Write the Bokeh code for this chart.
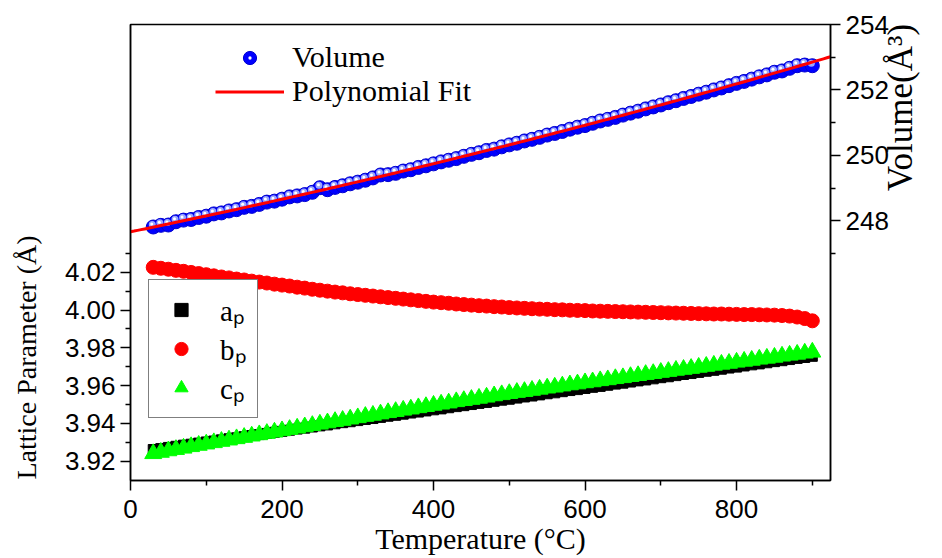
import math
import numpy as np
from bokeh.plotting import figure
from bokeh.models import (Range1d, LinearAxis, FixedTicker, PrintfTickFormatter,
                          Legend, LegendItem, ColumnDataSource)
from bokeh.embed import file_html
from bokeh.resources import INLINE

# Measurement temperatures (deg C)
temperature = list(range(30, 901, 10))

# Unit-cell volume (A^3)
volume = [
    247.81, 247.86, 247.87, 247.97, 248.02, 248.04, 248.10, 248.14, 248.21, 248.24,
    248.30, 248.34, 248.41, 248.44, 248.50, 248.57, 248.60, 248.66, 248.73, 248.76,
    248.80, 248.87, 249.01, 248.95, 249.02, 249.07, 249.13, 249.18, 249.24, 249.31,
    249.40, 249.41, 249.45, 249.52, 249.56, 249.63, 249.68, 249.74, 249.80, 249.85,
    249.90, 249.97, 250.03, 250.08, 250.15, 250.19, 250.26, 250.32, 250.37, 250.44,
    250.49, 250.55, 250.62, 250.67, 250.73, 250.80, 250.86, 250.91, 250.98, 251.05,
    251.10, 251.16, 251.23, 251.29, 251.35, 251.42, 251.48, 251.54, 251.61, 251.67,
    251.74, 251.80, 251.87, 251.93, 252.00, 252.06, 252.13, 252.20, 252.26, 252.33,
    252.40, 252.46, 252.54, 252.58, 252.66, 252.74, 252.76, 252.74,
]

# Pseudo-cubic lattice parameters (A)
a_p = [
    3.9262, 3.9267, 3.9273, 3.9279, 3.9285, 3.9290, 3.9296, 3.9302, 3.9307, 3.9313,
    3.9319, 3.9324, 3.9330, 3.9336, 3.9341, 3.9347, 3.9353, 3.9358, 3.9364, 3.9370,
    3.9375, 3.9381, 3.9387, 3.9392, 3.9398, 3.9404, 3.9409, 3.9415, 3.9421, 3.9426,
    3.9432, 3.9438, 3.9443, 3.9449, 3.9455, 3.9460, 3.9466, 3.9472, 3.9477, 3.9483,
    3.9489, 3.9494, 3.9500, 3.9506, 3.9511, 3.9517, 3.9523, 3.9528, 3.9534, 3.9540,
    3.9545, 3.9551, 3.9557, 3.9562, 3.9568, 3.9574, 3.9579, 3.9585, 3.9591, 3.9596,
    3.9602, 3.9608, 3.9613, 3.9619, 3.9625, 3.9630, 3.9636, 3.9642, 3.9647, 3.9653,
    3.9659, 3.9664, 3.9670, 3.9676, 3.9681, 3.9687, 3.9693, 3.9698, 3.9704, 3.9710,
    3.9715, 3.9721, 3.9727, 3.9732, 3.9738, 3.9744, 3.9749, 3.9755,
]
b_p = [
    4.0226, 4.0221, 4.0216, 4.0210, 4.0205, 4.0199, 4.0193, 4.0187, 4.0181, 4.0175,
    4.0170, 4.0164, 4.0159, 4.0153, 4.0148, 4.0143, 4.0137, 4.0132, 4.0127, 4.0121,
    4.0116, 4.0110, 4.0105, 4.0100, 4.0095, 4.0091, 4.0086, 4.0082, 4.0078, 4.0074,
    4.0070, 4.0066, 4.0062, 4.0058, 4.0054, 4.0050, 4.0046, 4.0042, 4.0039, 4.0036,
    4.0032, 4.0029, 4.0026, 4.0023, 4.0021, 4.0018, 4.0016, 4.0013, 4.0011, 4.0009,
    4.0007, 4.0005, 4.0004, 4.0002, 4.0001, 3.9999, 3.9998, 3.9997, 3.9995, 3.9994,
    3.9993, 3.9992, 3.9991, 3.9990, 3.9989, 3.9988, 3.9987, 3.9986, 3.9985, 3.9984,
    3.9983, 3.9982, 3.9981, 3.9980, 3.9979, 3.9979, 3.9978, 3.9977, 3.9976, 3.9976,
    3.9975, 3.9974, 3.9973, 3.9971, 3.9968, 3.9963, 3.9955, 3.9943,
]
c_p = [
    3.9240, 3.9247, 3.9255, 3.9262, 3.9269, 3.9277, 3.9284, 3.9291, 3.9298, 3.9305,
    3.9312, 3.9319, 3.9326, 3.9333, 3.9340, 3.9347, 3.9354, 3.9361, 3.9368, 3.9375,
    3.9382, 3.9389, 3.9396, 3.9403, 3.9410, 3.9416, 3.9423, 3.9430, 3.9437, 3.9443,
    3.9450, 3.9457, 3.9463, 3.9470, 3.9476, 3.9483, 3.9489, 3.9496, 3.9502, 3.9508,
    3.9515, 3.9521, 3.9527, 3.9533, 3.9539, 3.9546, 3.9552, 3.9558, 3.9564, 3.9569,
    3.9575, 3.9581, 3.9587, 3.9592, 3.9598, 3.9604, 3.9609, 3.9615, 3.9620, 3.9626,
    3.9631, 3.9637, 3.9642, 3.9648, 3.9653, 3.9659, 3.9664, 3.9670, 3.9675, 3.9681,
    3.9686, 3.9691, 3.9697, 3.9702, 3.9708, 3.9713, 3.9718, 3.9724, 3.9729, 3.9734,
    3.9740, 3.9745, 3.9750, 3.9756, 3.9761, 3.9766, 3.9772, 3.9777,
]

# Axis ticks
x_ticks = [0, 200, 400, 600, 800]
x_minor = [100, 300, 500, 700, 900]
lat_ticks = [3.92, 3.94, 3.96, 3.98, 4.00, 4.02]
lat_minor = [3.93, 3.95, 3.97, 3.99, 4.01, 4.03]
vol_ticks = [248, 250, 252, 254]
vol_minor = [247, 249, 251, 253]

# Canvas / frame geometry
W, H = 942, 558
B_LEFT, B_RIGHT, B_TOP, B_BOTTOM = 130, 95, 24, 78
FRAME_W = W - B_LEFT - B_RIGHT
FRAME_H = H - B_TOP - B_BOTTOM

X0, X1 = 0, 924
LAT0, LAT1 = 3.9098, 4.1511
VOL0, VOL1 = 240.06, 254.0

SERIF = "Liberation Serif"
SANS = "Liberation Sans"
NBSP = "\u00a0"

p = figure(width=W, height=H, x_range=Range1d(X0, X1), y_range=Range1d(LAT0, LAT1),
           output_backend="svg", toolbar_location=None,
           min_border_left=B_LEFT, min_border_right=B_RIGHT,
           min_border_top=B_TOP, min_border_bottom=B_BOTTOM)
p.extra_y_ranges = {"vol": Range1d(VOL0, VOL1)}
p.xgrid.visible = False
p.ygrid.visible = False
p.outline_line_color = "black"
p.outline_line_width = 1.5
p.background_fill_color = "white"
p.border_fill_color = "white"

vol_axis = LinearAxis(y_range_name="vol")
p.add_layout(vol_axis, "right")

xax = p.xaxis[0]
yax = p.yaxis[0]
xax.ticker = FixedTicker(ticks=x_ticks, minor_ticks=x_minor)
yax.ticker = FixedTicker(ticks=lat_ticks, minor_ticks=lat_minor)
vol_axis.ticker = FixedTicker(ticks=vol_ticks, minor_ticks=vol_minor)
yax.formatter = PrintfTickFormatter(format="%.2f")
vol_axis.formatter = PrintfTickFormatter(format="%d")

for ax in (xax, yax, vol_axis):
    ax.axis_line_width = 1.5
    ax.axis_line_color = "black"
    ax.major_tick_line_width = 1.5
    ax.minor_tick_line_width = 1.5
    ax.major_tick_line_color = "black"
    ax.minor_tick_line_color = "black"
    ax.major_tick_out = 10
    ax.major_tick_in = 0
    ax.minor_tick_out = 5
    ax.minor_tick_in = 0
    ax.major_label_text_font = SANS
    ax.major_label_text_font_size = "26px"
    ax.major_label_text_color = "black"
    ax.major_label_standoff = 5
    ax.axis_label_text_font = SERIF
    ax.axis_label_text_font_style = "normal"
    ax.axis_label_text_color = "black"
    ax.axis_label_text_font_size = "30px"

xax.major_label_standoff = 9
xax.axis_label = "Temperature (°C)"
xax.axis_label_standoff = 1

# titles sit off-centre along their axes; non-breaking padding moves them
yax.axis_label = "Lattice Parameter (Å)" + NBSP * 30
yax.axis_label_text_font_size = "28px"
yax.axis_label_standoff = 20
vol_axis.axis_label_text_font_size = "35px"
vol_axis.axis_label_text_line_height = 0.8
vol_axis.axis_label_standoff = 9
if "axis_label_orientation" in LinearAxis.properties():
    # rotated to read upwards, starting from the middle of the axis
    vol_axis.axis_label_orientation = math.pi / 2
    vol_axis.axis_label = NBSP * 7 + "Volume(Å³)"
else:
    vol_axis.axis_label = "Volume(Å³)"

# Lattice parameters
r_a = p.scatter(temperature, a_p, marker="square", size=10, fill_color="black", line_color="black")
r_b = p.scatter(temperature, b_p, marker="circle", size=14, fill_color="#ff0000", line_color="#ff0000")
r_c = p.scatter(temperature, c_p, marker="triangle", size=17, fill_color="#00ff00", line_color="#00ff00")

# Volume drawn as shaded spheres: dark body, lighter core, white glint
px_x = (X1 - X0) / FRAME_W
px_v = (VOL1 - VOL0) / FRAME_H
core_src = ColumnDataSource(dict(x=[t - 1.0 * px_x for t in temperature],
                                 y=[v + 2.5 * px_v for v in volume]))
glint_src = ColumnDataSource(dict(x=[t - 1.5 * px_x for t in temperature],
                                  y=[v + 3.0 * px_v for v in volume]))
r_vol = p.scatter(temperature, volume, marker="circle", size=14, fill_color="#0000ff",
                  line_color="#0000d0", line_width=1, y_range_name="vol")
p.scatter("x", "y", source=core_src, marker="circle", size=7, fill_color="#9aa6ff",
          line_color=None, y_range_name="vol")
r_glint = p.scatter("x", "y", source=glint_src, marker="dot", size=12, line_color="white",
                    y_range_name="vol")

# Quadratic fit of the volume
coef = np.polyfit(temperature, volume, 2)
t_fit = np.linspace(X0, X1, 200)
r_fit = p.line(t_fit, np.polyval(coef, t_fit), line_color="#ff0000", line_width=3,
               y_range_name="vol")

leg1 = Legend(items=[LegendItem(label="Volume", renderers=[r_vol, r_glint]),
                     LegendItem(label="Polynomial Fit", renderers=[r_fit])],
              location=(85, 372), glyph_width=69, glyph_height=33, label_height=33,
              label_standoff=8, padding=0, margin=0, spacing=0,
              border_line_alpha=0, background_fill_alpha=0,
              label_text_font=SERIF, label_text_font_size="30px", label_text_color="black")
leg2 = Legend(items=[LegendItem(label="aₚ", renderers=[r_a]),
                     LegendItem(label="bₚ", renderers=[r_b]),
                     LegendItem(label="cₚ", renderers=[r_c])],
              location=(18, 62), glyph_width=44, glyph_height=33, label_height=33,
              label_standoff=17, padding=10, margin=0, spacing=0,
              border_line_color="black", border_line_width=1.5,
              background_fill_color="white", background_fill_alpha=1,
              label_text_font=SERIF, label_text_font_size="29px", label_text_color="black")
p.add_layout(leg1)
p.add_layout(leg2)

open("out.html", "w").write(file_html(p, INLINE))
